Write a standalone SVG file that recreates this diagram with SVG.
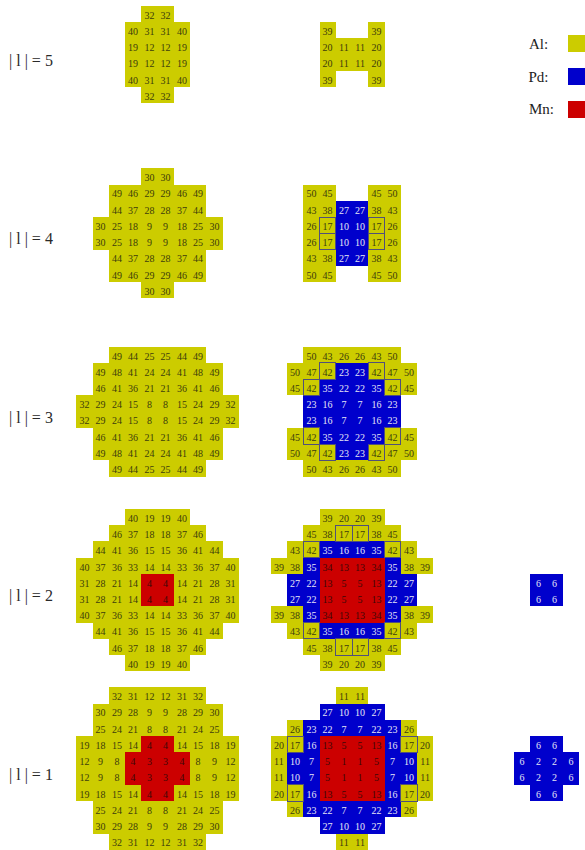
<svg xmlns="http://www.w3.org/2000/svg" width="585" height="850" viewBox="0 0 585 850">
<style>
.al{fill:#cccc00}
.pd{fill:#0000cc}
.mn{fill:#cc0000}
.bd{fill:none;stroke:#50507a;stroke-width:1}
rect{shape-rendering:crispEdges}
text{font-family:"Liberation Serif","Times New Roman",serif;font-size:10px;text-anchor:middle;fill:#3c3c0c}
text.w{fill:#e6e6f6}
text.r{fill:#3c0808}
text.lab{font-size:16px;text-anchor:start;fill:#2a2a2a}
text.leg{font-size:15px;text-anchor:start;fill:#222}
</style>
<rect x="0" y="0" width="585" height="850" fill="#fff"/>

<g id="labels">
<text class="lab" x="9" y="65.5">| l | = 5</text>
<text class="lab" x="9" y="244.4">| l | = 4</text>
<text class="lab" x="9" y="422.7">| l | = 3</text>
<text class="lab" x="9" y="601.2">| l | = 2</text>
<text class="lab" x="9" y="779.5">| l | = 1</text>
</g>

<g id="legend">
<text class="leg" x="529" y="48.5">Al:</text>
<rect class="al" x="568.3" y="35" width="16.7" height="16.7"/>
<text class="leg" x="528.5" y="81.7">Pd:</text>
<rect class="pd" x="568.3" y="68.3" width="16.7" height="16.7"/>
<text class="leg" x="529" y="113.5">Mn:</text>
<rect class="mn" x="568.3" y="101" width="16.7" height="16.7"/>
</g>

<g id="connectors"></g>

<!-- l=5 left -->
<g id="l5-a" transform="translate(157.5,54.5)">
<rect class="al" x="-16.25" y="-48.75" width="32.5" height="16.25"/>
<rect class="al" x="-32.5" y="-32.5" width="65" height="65"/>
<rect class="al" x="-16.25" y="32.5" width="32.5" height="16.25"/>
<text x="-8.1" y="-35.95">32</text><text x="8.1" y="-35.95">32</text>
<text x="-24.4" y="-19.7">40</text><text x="-8.1" y="-19.7">31</text><text x="8.1" y="-19.7">31</text><text x="24.4" y="-19.7">40</text>
<text x="-24.4" y="-3.45">19</text><text x="-8.1" y="-3.45">12</text><text x="8.1" y="-3.45">12</text><text x="24.4" y="-3.45">19</text>
<text x="-24.4" y="12.8">19</text><text x="-8.1" y="12.8">12</text><text x="8.1" y="12.8">12</text><text x="24.4" y="12.8">19</text>
<text x="-24.4" y="29.05">40</text><text x="-8.1" y="29.05">31</text><text x="8.1" y="29.05">31</text><text x="24.4" y="29.05">40</text>
<text x="-8.1" y="45.3">32</text><text x="8.1" y="45.3">32</text>
</g>

<!-- l=5 right -->
<g id="l5-b" transform="translate(352,54.5)">
<rect class="al" x="-32.5" y="-32.5" width="16.25" height="16.25"/>
<rect class="al" x="16.25" y="-32.5" width="16.25" height="16.25"/>
<rect class="al" x="-32.5" y="-16.25" width="65" height="32.5"/>
<rect class="al" x="-32.5" y="16.25" width="16.25" height="16.25"/>
<rect class="al" x="16.25" y="16.25" width="16.25" height="16.25"/>
<text x="-24.4" y="-19.7">39</text><text x="24.4" y="-19.7">39</text>
<text x="-24.4" y="-3.45">20</text><text x="-8.1" y="-3.45">11</text><text x="8.1" y="-3.45">11</text><text x="24.4" y="-3.45">20</text>
<text x="-24.4" y="12.8">20</text><text x="-8.1" y="12.8">11</text><text x="8.1" y="12.8">11</text><text x="24.4" y="12.8">20</text>
<text x="-24.4" y="29.05">39</text><text x="24.4" y="29.05">39</text>
</g>

<!-- l=4 left -->
<g id="l4-a" transform="translate(157.5,233.4)">
<rect class="al" x="-16.25" y="-65" width="32.5" height="16.25"/>
<rect class="al" x="-48.75" y="-48.75" width="97.5" height="32.5"/>
<rect class="al" x="-65" y="-16.25" width="130" height="32.5"/>
<rect class="al" x="-48.75" y="16.25" width="97.5" height="32.5"/>
<rect class="al" x="-16.25" y="48.75" width="32.5" height="16.25"/>
<text x="-8.1" y="-52.2">30</text><text x="8.1" y="-52.2">30</text>
<text x="-40.6" y="-35.95">49</text><text x="-24.4" y="-35.95">46</text><text x="-8.1" y="-35.95">29</text><text x="8.1" y="-35.95">29</text><text x="24.4" y="-35.95">46</text><text x="40.6" y="-35.95">49</text>
<text x="-40.6" y="-19.7">44</text><text x="-24.4" y="-19.7">37</text><text x="-8.1" y="-19.7">28</text><text x="8.1" y="-19.7">28</text><text x="24.4" y="-19.7">37</text><text x="40.6" y="-19.7">44</text>
<text x="-56.9" y="-3.45">30</text><text x="-40.6" y="-3.45">25</text><text x="-24.4" y="-3.45">18</text><text x="-8.1" y="-3.45">9</text><text x="8.1" y="-3.45">9</text><text x="24.4" y="-3.45">18</text><text x="40.6" y="-3.45">25</text><text x="56.9" y="-3.45">30</text>
<text x="-56.9" y="12.8">30</text><text x="-40.6" y="12.8">25</text><text x="-24.4" y="12.8">18</text><text x="-8.1" y="12.8">9</text><text x="8.1" y="12.8">9</text><text x="24.4" y="12.8">18</text><text x="40.6" y="12.8">25</text><text x="56.9" y="12.8">30</text>
<text x="-40.6" y="29.05">44</text><text x="-24.4" y="29.05">37</text><text x="-8.1" y="29.05">28</text><text x="8.1" y="29.05">28</text><text x="24.4" y="29.05">37</text><text x="40.6" y="29.05">44</text>
<text x="-40.6" y="45.3">49</text><text x="-24.4" y="45.3">46</text><text x="-8.1" y="45.3">29</text><text x="8.1" y="45.3">29</text><text x="24.4" y="45.3">46</text><text x="40.6" y="45.3">49</text>
<text x="-8.1" y="61.55">30</text><text x="8.1" y="61.55">30</text>
</g>

<!-- l=4 right -->
<g id="l4-b" transform="translate(352,233.4)">
<rect class="al" x="-48.75" y="-48.75" width="32.5" height="16.25"/>
<rect class="al" x="16.25" y="-48.75" width="32.5" height="16.25"/>
<rect class="al" x="-48.75" y="-32.5" width="97.5" height="65"/>
<rect class="pd" x="-16.25" y="-32.5" width="32.5" height="65"/>
<rect class="al" x="-48.75" y="32.5" width="32.5" height="16.25"/>
<rect class="al" x="16.25" y="32.5" width="32.5" height="16.25"/>
<rect class="bd" x="-32.5" y="-16.25" width="16.25" height="16.25"/>
<rect class="bd" x="-32.5" y="0" width="16.25" height="16.25"/>
<rect class="bd" x="16.25" y="-16.25" width="16.25" height="16.25"/>
<rect class="bd" x="16.25" y="0" width="16.25" height="16.25"/>
<text x="-40.6" y="-35.95">50</text><text x="-24.4" y="-35.95">45</text><text x="24.4" y="-35.95">45</text><text x="40.6" y="-35.95">50</text>
<text x="-40.6" y="-19.7">43</text><text x="-24.4" y="-19.7">38</text><text class="w" x="-8.1" y="-19.7">27</text><text class="w" x="8.1" y="-19.7">27</text><text x="24.4" y="-19.7">38</text><text x="40.6" y="-19.7">43</text>
<text x="-40.6" y="-3.45">26</text><text x="-24.4" y="-3.45">17</text><text class="w" x="-8.1" y="-3.45">10</text><text class="w" x="8.1" y="-3.45">10</text><text x="24.4" y="-3.45">17</text><text x="40.6" y="-3.45">26</text>
<text x="-40.6" y="12.8">26</text><text x="-24.4" y="12.8">17</text><text class="w" x="-8.1" y="12.8">10</text><text class="w" x="8.1" y="12.8">10</text><text x="24.4" y="12.8">17</text><text x="40.6" y="12.8">26</text>
<text x="-40.6" y="29.05">43</text><text x="-24.4" y="29.05">38</text><text class="w" x="-8.1" y="29.05">27</text><text class="w" x="8.1" y="29.05">27</text><text x="24.4" y="29.05">38</text><text x="40.6" y="29.05">43</text>
<text x="-40.6" y="45.3">50</text><text x="-24.4" y="45.3">45</text><text x="24.4" y="45.3">45</text><text x="40.6" y="45.3">50</text>
</g>

<!-- l=3 left -->
<g id="l3-a" transform="translate(157.5,411.7)">
<rect class="al" x="-48.75" y="-65" width="97.5" height="16.25"/>
<rect class="al" x="-65" y="-48.75" width="130" height="32.5"/>
<rect class="al" x="-81.25" y="-16.25" width="162.5" height="32.5"/>
<rect class="al" x="-65" y="16.25" width="130" height="32.5"/>
<rect class="al" x="-48.75" y="48.75" width="97.5" height="16.25"/>
<text x="-40.6" y="-52.2">49</text><text x="-24.4" y="-52.2">44</text><text x="-8.1" y="-52.2">25</text><text x="8.1" y="-52.2">25</text><text x="24.4" y="-52.2">44</text><text x="40.6" y="-52.2">49</text>
<text x="-56.9" y="-35.95">49</text><text x="-40.6" y="-35.95">48</text><text x="-24.4" y="-35.95">41</text><text x="-8.1" y="-35.95">24</text><text x="8.1" y="-35.95">24</text><text x="24.4" y="-35.95">41</text><text x="40.6" y="-35.95">48</text><text x="56.9" y="-35.95">49</text>
<text x="-56.9" y="-19.7">46</text><text x="-40.6" y="-19.7">41</text><text x="-24.4" y="-19.7">36</text><text x="-8.1" y="-19.7">21</text><text x="8.1" y="-19.7">21</text><text x="24.4" y="-19.7">36</text><text x="40.6" y="-19.7">41</text><text x="56.9" y="-19.7">46</text>
<text x="-73.1" y="-3.45">32</text><text x="-56.9" y="-3.45">29</text><text x="-40.6" y="-3.45">24</text><text x="-24.4" y="-3.45">15</text><text x="-8.1" y="-3.45">8</text><text x="8.1" y="-3.45">8</text><text x="24.4" y="-3.45">15</text><text x="40.6" y="-3.45">24</text><text x="56.9" y="-3.45">29</text><text x="73.1" y="-3.45">32</text>
<text x="-73.1" y="12.8">32</text><text x="-56.9" y="12.8">29</text><text x="-40.6" y="12.8">24</text><text x="-24.4" y="12.8">15</text><text x="-8.1" y="12.8">8</text><text x="8.1" y="12.8">8</text><text x="24.4" y="12.8">15</text><text x="40.6" y="12.8">24</text><text x="56.9" y="12.8">29</text><text x="73.1" y="12.8">32</text>
<text x="-56.9" y="29.05">46</text><text x="-40.6" y="29.05">41</text><text x="-24.4" y="29.05">36</text><text x="-8.1" y="29.05">21</text><text x="8.1" y="29.05">21</text><text x="24.4" y="29.05">36</text><text x="40.6" y="29.05">41</text><text x="56.9" y="29.05">46</text>
<text x="-56.9" y="45.3">49</text><text x="-40.6" y="45.3">48</text><text x="-24.4" y="45.3">41</text><text x="-8.1" y="45.3">24</text><text x="8.1" y="45.3">24</text><text x="24.4" y="45.3">41</text><text x="40.6" y="45.3">48</text><text x="56.9" y="45.3">49</text>
<text x="-40.6" y="61.55">49</text><text x="-24.4" y="61.55">44</text><text x="-8.1" y="61.55">25</text><text x="8.1" y="61.55">25</text><text x="24.4" y="61.55">44</text><text x="40.6" y="61.55">49</text>
</g>

<!-- l=3 right -->
<g id="l3-b" transform="translate(352,411.7)">
<rect class="al" x="-48.75" y="-65" width="97.5" height="16.25"/>
<rect class="al" x="-65" y="-48.75" width="130" height="32.5"/>
<rect class="al" x="-65" y="16.25" width="130" height="32.5"/>
<rect class="al" x="-48.75" y="48.75" width="97.5" height="16.25"/>
<rect class="pd" x="-16.25" y="-48.75" width="32.5" height="16.25"/>
<rect class="pd" x="-32.5" y="-32.5" width="65" height="16.25"/>
<rect class="pd" x="-48.75" y="-16.25" width="97.5" height="32.5"/>
<rect class="pd" x="-32.5" y="16.25" width="65" height="16.25"/>
<rect class="pd" x="-16.25" y="32.5" width="32.5" height="16.25"/>
<rect class="bd" x="-32.5" y="-48.75" width="16.25" height="16.25"/>
<rect class="bd" x="16.25" y="-48.75" width="16.25" height="16.25"/>
<rect class="bd" x="-48.75" y="-32.5" width="16.25" height="16.25"/>
<rect class="bd" x="32.5" y="-32.5" width="16.25" height="16.25"/>
<rect class="bd" x="-48.75" y="16.25" width="16.25" height="16.25"/>
<rect class="bd" x="32.5" y="16.25" width="16.25" height="16.25"/>
<rect class="bd" x="-32.5" y="32.5" width="16.25" height="16.25"/>
<rect class="bd" x="16.25" y="32.5" width="16.25" height="16.25"/>
<text x="-40.6" y="-52.2">50</text><text x="-24.4" y="-52.2">43</text><text x="-8.1" y="-52.2">26</text><text x="8.1" y="-52.2">26</text><text x="24.4" y="-52.2">43</text><text x="40.6" y="-52.2">50</text>
<text x="-56.9" y="-35.95">50</text><text x="-40.6" y="-35.95">47</text><text x="-24.4" y="-35.95">42</text><text class="w" x="-8.1" y="-35.95">23</text><text class="w" x="8.1" y="-35.95">23</text><text x="24.4" y="-35.95">42</text><text x="40.6" y="-35.95">47</text><text x="56.9" y="-35.95">50</text>
<text x="-56.9" y="-19.7">45</text><text x="-40.6" y="-19.7">42</text><text class="w" x="-24.4" y="-19.7">35</text><text class="w" x="-8.1" y="-19.7">22</text><text class="w" x="8.1" y="-19.7">22</text><text class="w" x="24.4" y="-19.7">35</text><text x="40.6" y="-19.7">42</text><text x="56.9" y="-19.7">45</text>
<text class="w" x="-40.6" y="-3.45">23</text><text class="w" x="-24.4" y="-3.45">16</text><text class="w" x="-8.1" y="-3.45">7</text><text class="w" x="8.1" y="-3.45">7</text><text class="w" x="24.4" y="-3.45">16</text><text class="w" x="40.6" y="-3.45">23</text>
<text class="w" x="-40.6" y="12.8">23</text><text class="w" x="-24.4" y="12.8">16</text><text class="w" x="-8.1" y="12.8">7</text><text class="w" x="8.1" y="12.8">7</text><text class="w" x="24.4" y="12.8">16</text><text class="w" x="40.6" y="12.8">23</text>
<text x="-56.9" y="29.05">45</text><text x="-40.6" y="29.05">42</text><text class="w" x="-24.4" y="29.05">35</text><text class="w" x="-8.1" y="29.05">22</text><text class="w" x="8.1" y="29.05">22</text><text class="w" x="24.4" y="29.05">35</text><text x="40.6" y="29.05">42</text><text x="56.9" y="29.05">45</text>
<text x="-56.9" y="45.3">50</text><text x="-40.6" y="45.3">47</text><text x="-24.4" y="45.3">42</text><text class="w" x="-8.1" y="45.3">23</text><text class="w" x="8.1" y="45.3">23</text><text x="24.4" y="45.3">42</text><text x="40.6" y="45.3">47</text><text x="56.9" y="45.3">50</text>
<text x="-40.6" y="61.55">50</text><text x="-24.4" y="61.55">43</text><text x="-8.1" y="61.55">26</text><text x="8.1" y="61.55">26</text><text x="24.4" y="61.55">43</text><text x="40.6" y="61.55">50</text>
</g>

<!-- l=2 left -->
<g id="l2-a" transform="translate(157.5,590.2)">
<rect class="al" x="-32.5" y="-81.25" width="65" height="16.25"/>
<rect class="al" x="-48.75" y="-65" width="97.5" height="16.25"/>
<rect class="al" x="-65" y="-48.75" width="130" height="16.25"/>
<rect class="al" x="-81.25" y="-32.5" width="162.5" height="65"/>
<rect class="al" x="-65" y="32.5" width="130" height="16.25"/>
<rect class="al" x="-48.75" y="48.75" width="97.5" height="16.25"/>
<rect class="al" x="-32.5" y="65" width="65" height="16.25"/>
<rect class="mn" x="-16.25" y="-16.25" width="32.5" height="32.5"/>
<text x="-24.4" y="-68.45">40</text><text x="-8.1" y="-68.45">19</text><text x="8.1" y="-68.45">19</text><text x="24.4" y="-68.45">40</text>
<text x="-40.6" y="-52.2">46</text><text x="-24.4" y="-52.2">37</text><text x="-8.1" y="-52.2">18</text><text x="8.1" y="-52.2">18</text><text x="24.4" y="-52.2">37</text><text x="40.6" y="-52.2">46</text>
<text x="-56.9" y="-35.95">44</text><text x="-40.6" y="-35.95">41</text><text x="-24.4" y="-35.95">36</text><text x="-8.1" y="-35.95">15</text><text x="8.1" y="-35.95">15</text><text x="24.4" y="-35.95">36</text><text x="40.6" y="-35.95">41</text><text x="56.9" y="-35.95">44</text>
<text x="-73.1" y="-19.7">40</text><text x="-56.9" y="-19.7">37</text><text x="-40.6" y="-19.7">36</text><text x="-24.4" y="-19.7">33</text><text x="-8.1" y="-19.7">14</text><text x="8.1" y="-19.7">14</text><text x="24.4" y="-19.7">33</text><text x="40.6" y="-19.7">36</text><text x="56.9" y="-19.7">37</text><text x="73.1" y="-19.7">40</text>
<text x="-73.1" y="-3.45">31</text><text x="-56.9" y="-3.45">28</text><text x="-40.6" y="-3.45">21</text><text x="-24.4" y="-3.45">14</text><text class="r" x="-8.1" y="-3.45">4</text><text class="r" x="8.1" y="-3.45">4</text><text x="24.4" y="-3.45">14</text><text x="40.6" y="-3.45">21</text><text x="56.9" y="-3.45">28</text><text x="73.1" y="-3.45">31</text>
<text x="-73.1" y="12.8">31</text><text x="-56.9" y="12.8">28</text><text x="-40.6" y="12.8">21</text><text x="-24.4" y="12.8">14</text><text class="r" x="-8.1" y="12.8">4</text><text class="r" x="8.1" y="12.8">4</text><text x="24.4" y="12.8">14</text><text x="40.6" y="12.8">21</text><text x="56.9" y="12.8">28</text><text x="73.1" y="12.8">31</text>
<text x="-73.1" y="29.05">40</text><text x="-56.9" y="29.05">37</text><text x="-40.6" y="29.05">36</text><text x="-24.4" y="29.05">33</text><text x="-8.1" y="29.05">14</text><text x="8.1" y="29.05">14</text><text x="24.4" y="29.05">33</text><text x="40.6" y="29.05">36</text><text x="56.9" y="29.05">37</text><text x="73.1" y="29.05">40</text>
<text x="-56.9" y="45.3">44</text><text x="-40.6" y="45.3">41</text><text x="-24.4" y="45.3">36</text><text x="-8.1" y="45.3">15</text><text x="8.1" y="45.3">15</text><text x="24.4" y="45.3">36</text><text x="40.6" y="45.3">41</text><text x="56.9" y="45.3">44</text>
<text x="-40.6" y="61.55">46</text><text x="-24.4" y="61.55">37</text><text x="-8.1" y="61.55">18</text><text x="8.1" y="61.55">18</text><text x="24.4" y="61.55">37</text><text x="40.6" y="61.55">46</text>
<text x="-24.4" y="77.8">40</text><text x="-8.1" y="77.8">19</text><text x="8.1" y="77.8">19</text><text x="24.4" y="77.8">40</text>
</g>

<!-- l=2 right -->
<g id="l2-b" transform="translate(352,590.2)">
<rect class="al" x="-32.5" y="-81.25" width="65" height="16.25"/>
<rect class="al" x="-48.75" y="-65" width="97.5" height="16.25"/>
<rect class="al" x="-65" y="-48.75" width="130" height="16.25"/>
<rect class="al" x="-81.25" y="-32.5" width="162.5" height="16.25"/>
<rect class="al" x="-81.25" y="16.25" width="162.5" height="16.25"/>
<rect class="al" x="-65" y="32.5" width="130" height="16.25"/>
<rect class="al" x="-48.75" y="48.75" width="97.5" height="16.25"/>
<rect class="al" x="-32.5" y="65" width="65" height="16.25"/>
<rect class="pd" x="-32.5" y="-48.75" width="65" height="16.25"/>
<rect class="pd" x="-48.75" y="-32.5" width="97.5" height="16.25"/>
<rect class="pd" x="-65" y="-16.25" width="130" height="32.5"/>
<rect class="pd" x="-48.75" y="16.25" width="97.5" height="16.25"/>
<rect class="pd" x="-32.5" y="32.5" width="65" height="16.25"/>
<rect class="mn" x="-32.5" y="-32.5" width="65" height="65"/>
<rect class="bd" x="-16.25" y="-65" width="16.25" height="16.25"/>
<rect class="bd" x="0" y="-65" width="16.25" height="16.25"/>
<rect class="bd" x="-48.75" y="-48.75" width="16.25" height="16.25"/>
<rect class="bd" x="32.5" y="-48.75" width="16.25" height="16.25"/>
<rect class="bd" x="-48.75" y="32.5" width="16.25" height="16.25"/>
<rect class="bd" x="32.5" y="32.5" width="16.25" height="16.25"/>
<rect class="bd" x="-16.25" y="48.75" width="16.25" height="16.25"/>
<rect class="bd" x="0" y="48.75" width="16.25" height="16.25"/>
<text x="-24.4" y="-68.45">39</text><text x="-8.1" y="-68.45">20</text><text x="8.1" y="-68.45">20</text><text x="24.4" y="-68.45">39</text>
<text x="-40.6" y="-52.2">45</text><text x="-24.4" y="-52.2">38</text><text x="-8.1" y="-52.2">17</text><text x="8.1" y="-52.2">17</text><text x="24.4" y="-52.2">38</text><text x="40.6" y="-52.2">45</text>
<text x="-56.9" y="-35.95">43</text><text x="-40.6" y="-35.95">42</text><text class="w" x="-24.4" y="-35.95">35</text><text class="w" x="-8.1" y="-35.95">16</text><text class="w" x="8.1" y="-35.95">16</text><text class="w" x="24.4" y="-35.95">35</text><text x="40.6" y="-35.95">42</text><text x="56.9" y="-35.95">43</text>
<text x="-73.1" y="-19.7">39</text><text x="-56.9" y="-19.7">38</text><text class="w" x="-40.6" y="-19.7">35</text><text class="r" x="-24.4" y="-19.7">34</text><text class="r" x="-8.1" y="-19.7">13</text><text class="r" x="8.1" y="-19.7">13</text><text class="r" x="24.4" y="-19.7">34</text><text class="w" x="40.6" y="-19.7">35</text><text x="56.9" y="-19.7">38</text><text x="73.1" y="-19.7">39</text>
<text class="w" x="-56.9" y="-3.45">27</text><text class="w" x="-40.6" y="-3.45">22</text><text class="r" x="-24.4" y="-3.45">13</text><text class="r" x="-8.1" y="-3.45">5</text><text class="r" x="8.1" y="-3.45">5</text><text class="r" x="24.4" y="-3.45">13</text><text class="w" x="40.6" y="-3.45">22</text><text class="w" x="56.9" y="-3.45">27</text>
<text class="w" x="-56.9" y="12.8">27</text><text class="w" x="-40.6" y="12.8">22</text><text class="r" x="-24.4" y="12.8">13</text><text class="r" x="-8.1" y="12.8">5</text><text class="r" x="8.1" y="12.8">5</text><text class="r" x="24.4" y="12.8">13</text><text class="w" x="40.6" y="12.8">22</text><text class="w" x="56.9" y="12.8">27</text>
<text x="-73.1" y="29.05">39</text><text x="-56.9" y="29.05">38</text><text class="w" x="-40.6" y="29.05">35</text><text class="r" x="-24.4" y="29.05">34</text><text class="r" x="-8.1" y="29.05">13</text><text class="r" x="8.1" y="29.05">13</text><text class="r" x="24.4" y="29.05">34</text><text class="w" x="40.6" y="29.05">35</text><text x="56.9" y="29.05">38</text><text x="73.1" y="29.05">39</text>
<text x="-56.9" y="45.3">43</text><text x="-40.6" y="45.3">42</text><text class="w" x="-24.4" y="45.3">35</text><text class="w" x="-8.1" y="45.3">16</text><text class="w" x="8.1" y="45.3">16</text><text class="w" x="24.4" y="45.3">35</text><text x="40.6" y="45.3">42</text><text x="56.9" y="45.3">43</text>
<text x="-40.6" y="61.55">45</text><text x="-24.4" y="61.55">38</text><text x="-8.1" y="61.55">17</text><text x="8.1" y="61.55">17</text><text x="24.4" y="61.55">38</text><text x="40.6" y="61.55">45</text>
<text x="-24.4" y="77.8">39</text><text x="-8.1" y="77.8">20</text><text x="8.1" y="77.8">20</text><text x="24.4" y="77.8">39</text>
</g>

<!-- l=1 left -->
<g id="l1-a" transform="translate(157.5,768.5)">
<rect class="al" x="-48.75" y="-81.25" width="97.5" height="16.25"/>
<rect class="al" x="-65" y="-65" width="130" height="32.5"/>
<rect class="al" x="-81.25" y="-32.5" width="162.5" height="65"/>
<rect class="al" x="-65" y="32.5" width="130" height="32.5"/>
<rect class="al" x="-48.75" y="65" width="97.5" height="16.25"/>
<rect class="mn" x="-16.25" y="-32.5" width="32.5" height="65"/>
<rect class="mn" x="-32.5" y="-16.25" width="65" height="32.5"/>
<text x="-40.6" y="-68.45">32</text><text x="-24.4" y="-68.45">31</text><text x="-8.1" y="-68.45">12</text><text x="8.1" y="-68.45">12</text><text x="24.4" y="-68.45">31</text><text x="40.6" y="-68.45">32</text>
<text x="-56.9" y="-52.2">30</text><text x="-40.6" y="-52.2">29</text><text x="-24.4" y="-52.2">28</text><text x="-8.1" y="-52.2">9</text><text x="8.1" y="-52.2">9</text><text x="24.4" y="-52.2">28</text><text x="40.6" y="-52.2">29</text><text x="56.9" y="-52.2">30</text>
<text x="-56.9" y="-35.95">25</text><text x="-40.6" y="-35.95">24</text><text x="-24.4" y="-35.95">21</text><text x="-8.1" y="-35.95">8</text><text x="8.1" y="-35.95">8</text><text x="24.4" y="-35.95">21</text><text x="40.6" y="-35.95">24</text><text x="56.9" y="-35.95">25</text>
<text x="-73.1" y="-19.7">19</text><text x="-56.9" y="-19.7">18</text><text x="-40.6" y="-19.7">15</text><text x="-24.4" y="-19.7">14</text><text class="r" x="-8.1" y="-19.7">4</text><text class="r" x="8.1" y="-19.7">4</text><text x="24.4" y="-19.7">14</text><text x="40.6" y="-19.7">15</text><text x="56.9" y="-19.7">18</text><text x="73.1" y="-19.7">19</text>
<text x="-73.1" y="-3.45">12</text><text x="-56.9" y="-3.45">9</text><text x="-40.6" y="-3.45">8</text><text class="r" x="-24.4" y="-3.45">4</text><text class="r" x="-8.1" y="-3.45">3</text><text class="r" x="8.1" y="-3.45">3</text><text class="r" x="24.4" y="-3.45">4</text><text x="40.6" y="-3.45">8</text><text x="56.9" y="-3.45">9</text><text x="73.1" y="-3.45">12</text>
<text x="-73.1" y="12.8">12</text><text x="-56.9" y="12.8">9</text><text x="-40.6" y="12.8">8</text><text class="r" x="-24.4" y="12.8">4</text><text class="r" x="-8.1" y="12.8">3</text><text class="r" x="8.1" y="12.8">3</text><text class="r" x="24.4" y="12.8">4</text><text x="40.6" y="12.8">8</text><text x="56.9" y="12.8">9</text><text x="73.1" y="12.8">12</text>
<text x="-73.1" y="29.05">19</text><text x="-56.9" y="29.05">18</text><text x="-40.6" y="29.05">15</text><text x="-24.4" y="29.05">14</text><text class="r" x="-8.1" y="29.05">4</text><text class="r" x="8.1" y="29.05">4</text><text x="24.4" y="29.05">14</text><text x="40.6" y="29.05">15</text><text x="56.9" y="29.05">18</text><text x="73.1" y="29.05">19</text>
<text x="-56.9" y="45.3">25</text><text x="-40.6" y="45.3">24</text><text x="-24.4" y="45.3">21</text><text x="-8.1" y="45.3">8</text><text x="8.1" y="45.3">8</text><text x="24.4" y="45.3">21</text><text x="40.6" y="45.3">24</text><text x="56.9" y="45.3">25</text>
<text x="-56.9" y="61.55">30</text><text x="-40.6" y="61.55">29</text><text x="-24.4" y="61.55">28</text><text x="-8.1" y="61.55">9</text><text x="8.1" y="61.55">9</text><text x="24.4" y="61.55">28</text><text x="40.6" y="61.55">29</text><text x="56.9" y="61.55">30</text>
<text x="-40.6" y="77.8">32</text><text x="-24.4" y="77.8">31</text><text x="-8.1" y="77.8">12</text><text x="8.1" y="77.8">12</text><text x="24.4" y="77.8">31</text><text x="40.6" y="77.8">32</text>
</g>

<!-- l=1 right -->
<g id="l1-b" transform="translate(352,768.5)">
<rect class="al" x="-16.25" y="-81.25" width="32.5" height="16.25"/>
<rect class="pd" x="-32.5" y="-65" width="65" height="16.25"/>
<rect class="al" x="-65" y="-48.75" width="130" height="16.25"/>
<rect class="pd" x="-48.75" y="-48.75" width="97.5" height="16.25"/>
<rect class="al" x="-81.25" y="-32.5" width="162.5" height="65"/>
<rect class="pd" x="-48.75" y="-32.5" width="97.5" height="65"/>
<rect class="pd" x="-65" y="-16.25" width="130" height="32.5"/>
<rect class="mn" x="-32.5" y="-32.5" width="65" height="65"/>
<rect class="al" x="-65" y="32.5" width="130" height="16.25"/>
<rect class="pd" x="-48.75" y="32.5" width="97.5" height="16.25"/>
<rect class="pd" x="-32.5" y="48.75" width="65" height="16.25"/>
<rect class="al" x="-16.25" y="65" width="32.5" height="16.25"/>
<rect class="bd" x="-65" y="-32.5" width="16.25" height="16.25"/>
<rect class="bd" x="48.75" y="-32.5" width="16.25" height="16.25"/>
<rect class="bd" x="-65" y="16.25" width="16.25" height="16.25"/>
<rect class="bd" x="48.75" y="16.25" width="16.25" height="16.25"/>
<text x="-8.1" y="-68.45">11</text><text x="8.1" y="-68.45">11</text>
<text class="w" x="-24.4" y="-52.2">27</text><text class="w" x="-8.1" y="-52.2">10</text><text class="w" x="8.1" y="-52.2">10</text><text class="w" x="24.4" y="-52.2">27</text>
<text x="-56.9" y="-35.95">26</text><text class="w" x="-40.6" y="-35.95">23</text><text class="w" x="-24.4" y="-35.95">22</text><text class="w" x="-8.1" y="-35.95">7</text><text class="w" x="8.1" y="-35.95">7</text><text class="w" x="24.4" y="-35.95">22</text><text class="w" x="40.6" y="-35.95">23</text><text x="56.9" y="-35.95">26</text>
<text x="-73.1" y="-19.7">20</text><text x="-56.9" y="-19.7">17</text><text class="w" x="-40.6" y="-19.7">16</text><text class="r" x="-24.4" y="-19.7">13</text><text class="r" x="-8.1" y="-19.7">5</text><text class="r" x="8.1" y="-19.7">5</text><text class="r" x="24.4" y="-19.7">13</text><text class="w" x="40.6" y="-19.7">16</text><text x="56.9" y="-19.7">17</text><text x="73.1" y="-19.7">20</text>
<text x="-73.1" y="-3.45">11</text><text class="w" x="-56.9" y="-3.45">10</text><text class="w" x="-40.6" y="-3.45">7</text><text class="r" x="-24.4" y="-3.45">5</text><text class="r" x="-8.1" y="-3.45">1</text><text class="r" x="8.1" y="-3.45">1</text><text class="r" x="24.4" y="-3.45">5</text><text class="w" x="40.6" y="-3.45">7</text><text class="w" x="56.9" y="-3.45">10</text><text x="73.1" y="-3.45">11</text>
<text x="-73.1" y="12.8">11</text><text class="w" x="-56.9" y="12.8">10</text><text class="w" x="-40.6" y="12.8">7</text><text class="r" x="-24.4" y="12.8">5</text><text class="r" x="-8.1" y="12.8">1</text><text class="r" x="8.1" y="12.8">1</text><text class="r" x="24.4" y="12.8">5</text><text class="w" x="40.6" y="12.8">7</text><text class="w" x="56.9" y="12.8">10</text><text x="73.1" y="12.8">11</text>
<text x="-73.1" y="29.05">20</text><text x="-56.9" y="29.05">17</text><text class="w" x="-40.6" y="29.05">16</text><text class="r" x="-24.4" y="29.05">13</text><text class="r" x="-8.1" y="29.05">5</text><text class="r" x="8.1" y="29.05">5</text><text class="r" x="24.4" y="29.05">13</text><text class="w" x="40.6" y="29.05">16</text><text x="56.9" y="29.05">17</text><text x="73.1" y="29.05">20</text>
<text x="-56.9" y="45.3">26</text><text class="w" x="-40.6" y="45.3">23</text><text class="w" x="-24.4" y="45.3">22</text><text class="w" x="-8.1" y="45.3">7</text><text class="w" x="8.1" y="45.3">7</text><text class="w" x="24.4" y="45.3">22</text><text class="w" x="40.6" y="45.3">23</text><text x="56.9" y="45.3">26</text>
<text class="w" x="-24.4" y="61.55">27</text><text class="w" x="-8.1" y="61.55">10</text><text class="w" x="8.1" y="61.55">10</text><text class="w" x="24.4" y="61.55">27</text>
<text x="-8.1" y="77.8">11</text><text x="8.1" y="77.8">11</text>
</g>

<!-- small Pd clusters -->
<g id="l2-c" transform="translate(546.5,590.2)">
<rect class="pd" x="-16.25" y="-16.25" width="32.5" height="32.5"/>
<text class="w" x="-8.1" y="-3.45">6</text><text class="w" x="8.1" y="-3.45">6</text>
<text class="w" x="-8.1" y="12.8">6</text><text class="w" x="8.1" y="12.8">6</text>
</g>
<g id="l1-c" transform="translate(546.5,768.5)">
<rect class="pd" x="-16.25" y="-32.5" width="32.5" height="65"/>
<rect class="pd" x="-32.5" y="-16.25" width="65" height="32.5"/>
<text class="w" x="-8.1" y="-19.7">6</text><text class="w" x="8.1" y="-19.7">6</text>
<text class="w" x="-24.4" y="-3.45">6</text><text class="w" x="-8.1" y="-3.45">2</text><text class="w" x="8.1" y="-3.45">2</text><text class="w" x="24.4" y="-3.45">6</text>
<text class="w" x="-24.4" y="12.8">6</text><text class="w" x="-8.1" y="12.8">2</text><text class="w" x="8.1" y="12.8">2</text><text class="w" x="24.4" y="12.8">6</text>
<text class="w" x="-8.1" y="29.05">6</text><text class="w" x="8.1" y="29.05">6</text>
</g>
</svg>
